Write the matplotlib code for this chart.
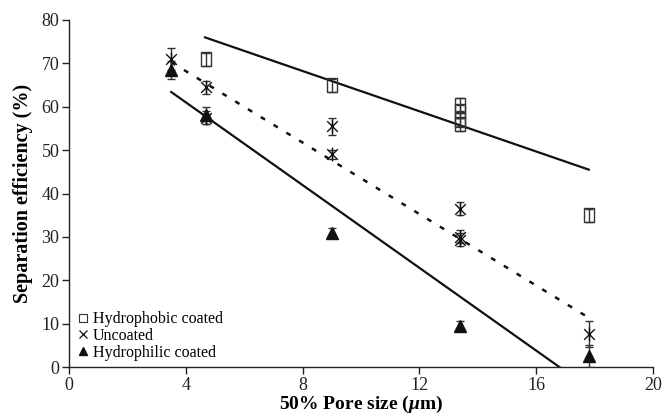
import matplotlib
matplotlib.use("Agg")
import matplotlib.pyplot as plt
import numpy as np
from matplotlib.path import Path

plt.rcParams['font.family'] = ['Liberation Serif', 'DejaVu Serif']
plt.rcParams['mathtext.fontset'] = 'custom'
plt.rcParams['mathtext.rm'] = 'Liberation Serif:bold'
plt.rcParams['mathtext.it'] = 'Liberation Serif:italic:bold'
plt.rcParams['mathtext.bf'] = 'Liberation Serif:bold'

# Data
hydrophobic_x = [4.7, 9.0, 13.4, 13.4, 13.4, 13.4, 17.8]
hydrophobic_y = [71, 65, 60.5, 59, 57, 56, 35]
hydrophobic_err = [1.5, 1.5, 1.5, 1.5, 1.5, 1.5, 1.5]

uncoated_x = [3.5, 4.7, 4.7, 9.0, 9.0, 13.4, 13.4, 13.4, 17.8]
uncoated_y = [71, 64.5, 57.5, 55.5, 49, 36.5, 30, 29.3, 7.5]
uncoated_err = [2.5, 1.5, 1.5, 2, 1, 1.5, 1.5, 1.5, 3]

hydrophilic_x = [3.5, 4.7, 9.0, 13.4, 17.8]
hydrophilic_y = [68.5, 58, 31, 9.5, 2.5]
hydrophilic_err = [2, 2, 1, 1, 2.5]

# Trend lines: slope, intercept, x range
hydrophobic_fit = (-2.32, 86.8, 4.66, 17.8)
uncoated_fit = (-4.12, 84.7, 3.5, 17.8)
hydrophilic_fit = (-4.77, 80.1, 3.5, 16.8)

labels = ['Hydrophobic coated', 'Uncoated', 'Hydrophilic coated']

fig = plt.figure(figsize=(6.64, 4.18), dpi=100)
ax = fig.add_axes([69/664, 1-367/418, (653-69)/664, (367-20)/418])

star = Path([(-1, -1), (1, 1), (-1, 1), (1, -1), (0, -1.3), (0, 1.3)],
            [Path.MOVETO, Path.LINETO, Path.MOVETO, Path.LINETO, Path.MOVETO, Path.LINETO])
rect = Path([(-0.75, -1), (0.75, -1), (0.75, 1), (-0.75, 1), (-0.75, -1)],
            [Path.MOVETO, Path.LINETO, Path.LINETO, Path.LINETO, Path.CLOSEPOLY])

def fitline(fit, **kw):
    m, b, x0, x1 = fit
    xs = np.array([x0, x1])
    ax.plot(xs, m*xs + b, **kw)

fitline(hydrophobic_fit, color='#111111', lw=1.6, zorder=2)
fitline(uncoated_fit, color='#111111', lw=1.8, ls=(0, (2, 4)), zorder=2)
fitline(hydrophilic_fit, color='#111111', lw=1.6, zorder=2)

ebkw = dict(ecolor='#333333', elinewidth=1.0, capsize=3, capthick=1.0, ls='none', zorder=3)
ax.errorbar(hydrophobic_x, hydrophobic_y, yerr=hydrophobic_err, **ebkw)
ax.errorbar(uncoated_x, uncoated_y, yerr=uncoated_err, **ebkw)
ax.errorbar(hydrophilic_x, hydrophilic_y, yerr=hydrophilic_err, **ebkw)

ax.plot(hydrophobic_x, hydrophobic_y, ls='none', marker=rect, ms=10, mfc='none',
        mec='#333333', mew=1.0, zorder=4)
ax.plot(uncoated_x, uncoated_y, ls='none', marker=star, ms=10, mfc='none',
        mec='#111111', mew=1.0, zorder=4)
ax.plot(hydrophilic_x, hydrophilic_y, ls='none', marker='^', ms=9, mfc='#111111',
        mec='#111111', zorder=4)

# legend handles
h1, = ax.plot([], [], ls='none', marker='s', ms=5.5, mfc='none', mec='#333333', mew=0.8)
h2, = ax.plot([], [], ls='none', marker='x', ms=5.5, mec='#111111', mew=0.9)
h3, = ax.plot([], [], ls='none', marker='^', ms=5.5, mfc='#111111', mec='#111111')
ax.legend([h1, h2, h3], labels, loc='lower left', bbox_to_anchor=(0.0, -0.01),
          frameon=False, fontsize=11.5, handlelength=0.6, handletextpad=0.3,
          labelspacing=0.05, borderaxespad=0.2)

ax.set_xlim(0, 20)
ax.set_ylim(0, 80)
ax.set_xticks([0, 4, 8, 12, 16, 20])
ax.set_yticks(range(0, 81, 10))
ax.spines['top'].set_visible(False)
ax.spines['right'].set_visible(False)
for s in ['left', 'bottom']:
    ax.spines[s].set_linewidth(1.0)
    ax.spines[s].set_color('#222222')
ax.tick_params(direction='out', length=5, width=1.0, labelsize=13, colors='#222222', pad=2)

ax.set_xlabel(r'50% Pore size ($\mu$m)', fontsize=14, fontweight='bold', labelpad=0)
ax.set_ylabel('Separation efficiency (%)', fontsize=14.5, fontweight='bold', labelpad=6)

fig.savefig('out.png', dpi=100)
